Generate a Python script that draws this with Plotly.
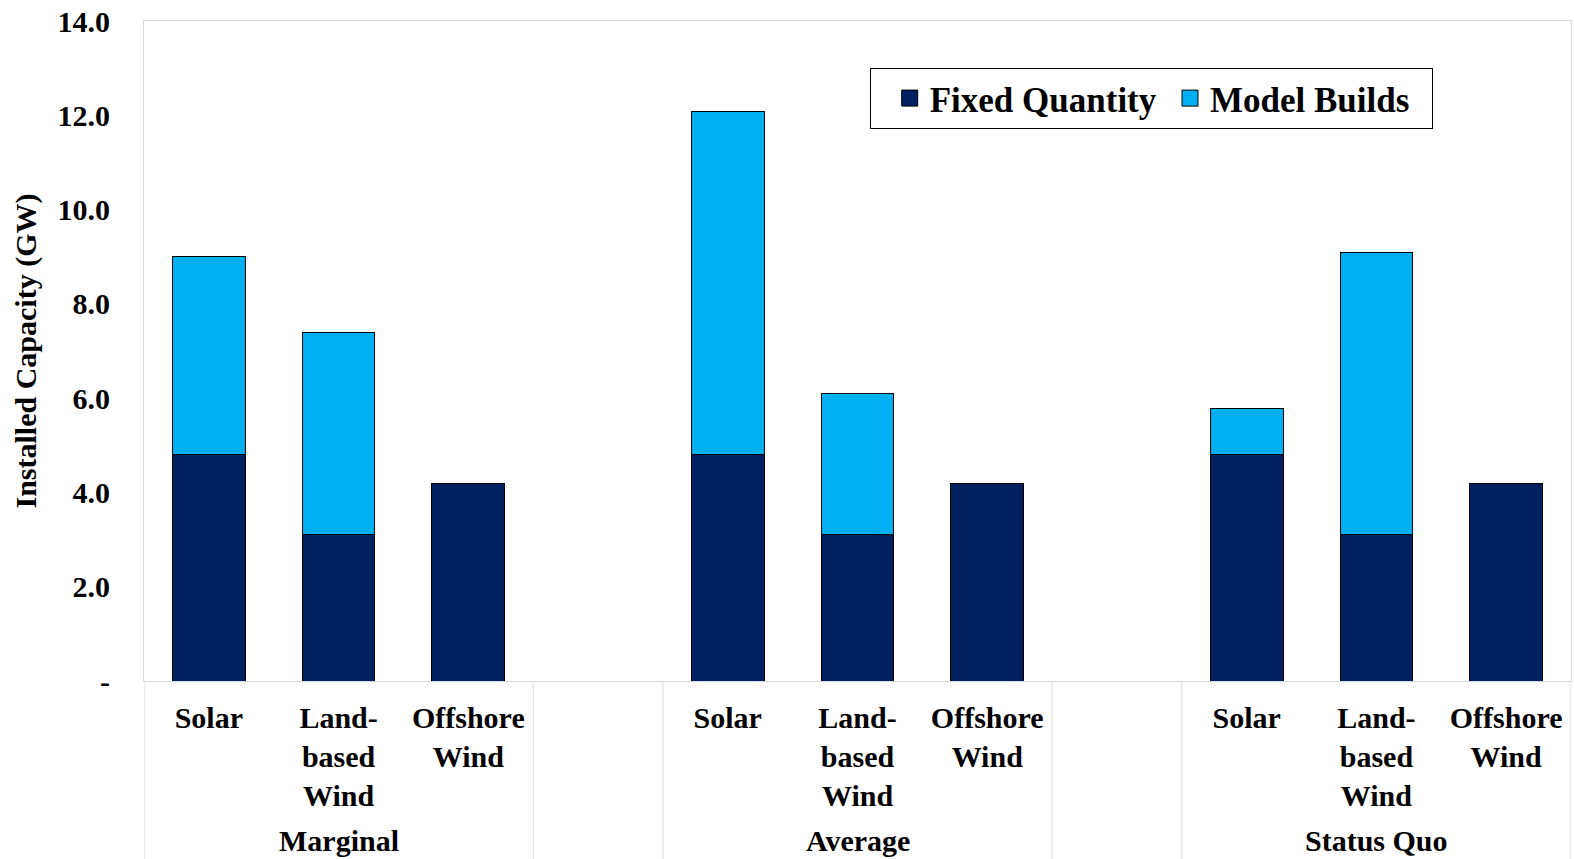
import plotly.graph_objects as go

scenarios = ["Marginal", "Average", "Status Quo"]
technologies = ["Solar", "Land-based Wind", "Offshore Wind"]
tech_labels = ["Solar", "Land-<br>based<br>Wind", "Offshore<br>Wind"]
fixed_quantity = {
    "Marginal":   [4.8, 3.1, 4.2],
    "Average":    [4.8, 3.1, 4.2],
    "Status Quo": [4.8, 3.1, 4.2],
}
model_builds = {
    "Marginal":   [4.2, 4.3, 0.0],
    "Average":    [7.27, 3.0, 0.0],
    "Status Quo": [0.99, 6.0, 0.0],
}
y_tickvals = [0, 2, 4, 6, 8, 10, 12, 14]
y_ticktext = ["-", "2.0", "4.0", "6.0", "8.0", "10.0", "12.0", "14.0"]

FONT = "Times New Roman, Liberation Serif, serif"
DARK = "#002060"
LIGHT = "#00B0F0"
GRID = "#d9d9d9"
NB = "\u00a0"

# build category slots (with a blank spacer slot between scenarios)
cats, labels, fq, mb = [], [], [], []
group_bounds = []
for i, scen in enumerate(scenarios):
    start = len(cats)
    for t, lab, f, m in zip(technologies, tech_labels, fixed_quantity[scen], model_builds[scen]):
        cats.append(f"{scen}|{t}")
        labels.append(lab)
        fq.append(f)
        mb.append(m)
    group_bounds.append((start, len(cats) - 1, scen))
    if i < len(scenarios) - 1:
        cats.append(" " * (i + 1))
        labels.append("")
        fq.append(None)
        mb.append(None)

fig = go.Figure()
fig.add_trace(go.Bar(x=cats, y=fq, name="Fixed Quantity", showlegend=False,
                     marker=dict(color=DARK, line=dict(color="black", width=1)),
                     width=0.56))
fig.add_trace(go.Bar(x=cats, y=mb, name="Model Builds", showlegend=False,
                     marker=dict(color=LIGHT, line=dict(color="black", width=1)),
                     width=0.56))
# legend entries with larger square symbols
for name, col in [("Fixed Quantity" + NB, DARK), ("Model Builds" + NB * 2, LIGHT)]:
    fig.add_trace(go.Scatter(x=[cats[0]], y=[None], mode="markers", name=name,
                             marker=dict(symbol="square", size=18, color=col,
                                         line=dict(color="black", width=1))))

shapes = []
annotations = []
for start, end, scen in group_bounds:
    for xv in (start - 0.5, end + 0.5):
        shapes.append(dict(type="line", xref="x", yref="paper", x0=xv, x1=xv,
                           y0=0, y1=-0.3, line=dict(color=GRID, width=1)))
    annotations.append(dict(text=scen, xref="x", yref="paper",
                            x=cats[(start + end) // 2], y=-0.241,
                            yanchor="middle", showarrow=False,
                            font=dict(family=FONT, size=30, color="black", weight="bold")))

fig.update_layout(
    barmode="stack",
    width=1574, height=859,
    margin=dict(l=144, r=3, t=21, b=178),
    paper_bgcolor="white", plot_bgcolor="white",
    font=dict(family=FONT, size=30, color="black"),
    showlegend=True,
    legend=dict(orientation="h", x=0.706, xanchor="center", y=0.929, yanchor="top",
                bordercolor="black", borderwidth=1, bgcolor="white",
                font=dict(family=FONT, size=35, color="black", weight="bold"),
                title=dict(text=NB, side="left",
                           font=dict(family=FONT, size=35, color="black")),
                traceorder="normal", itemsizing="trace"),
    shapes=shapes,
    annotations=annotations,
)
fig.update_xaxes(
    type="category", categoryorder="array", categoryarray=cats,
    range=[-0.5, len(cats) - 0.5], automargin=False,
    tickvals=cats, ticktext=labels,
    showline=True, linecolor=GRID, linewidth=1, mirror=True,
    showgrid=False, ticks="", ticklabelstandoff=10,
    tickfont=dict(family=FONT, size=30, color="black", weight="bold"),
)
fig.update_yaxes(
    range=[0, 14], tickvals=y_tickvals, ticktext=y_ticktext, automargin=False,
    showline=True, linecolor=GRID, linewidth=1, mirror=True,
    showgrid=False, zeroline=False, ticks="",
    ticklabelstandoff=27,
    tickfont=dict(family=FONT, size=30, color="black", weight="bold"),
    title=dict(text="Installed Capacity (GW)", standoff=12,
               font=dict(family=FONT, size=30, color="black", weight="bold")),
)

fig.write_html("out.html", config={"displayModeBar": False},
               post_script="document.body.style.margin='0';document.body.style.overflow='hidden';")
